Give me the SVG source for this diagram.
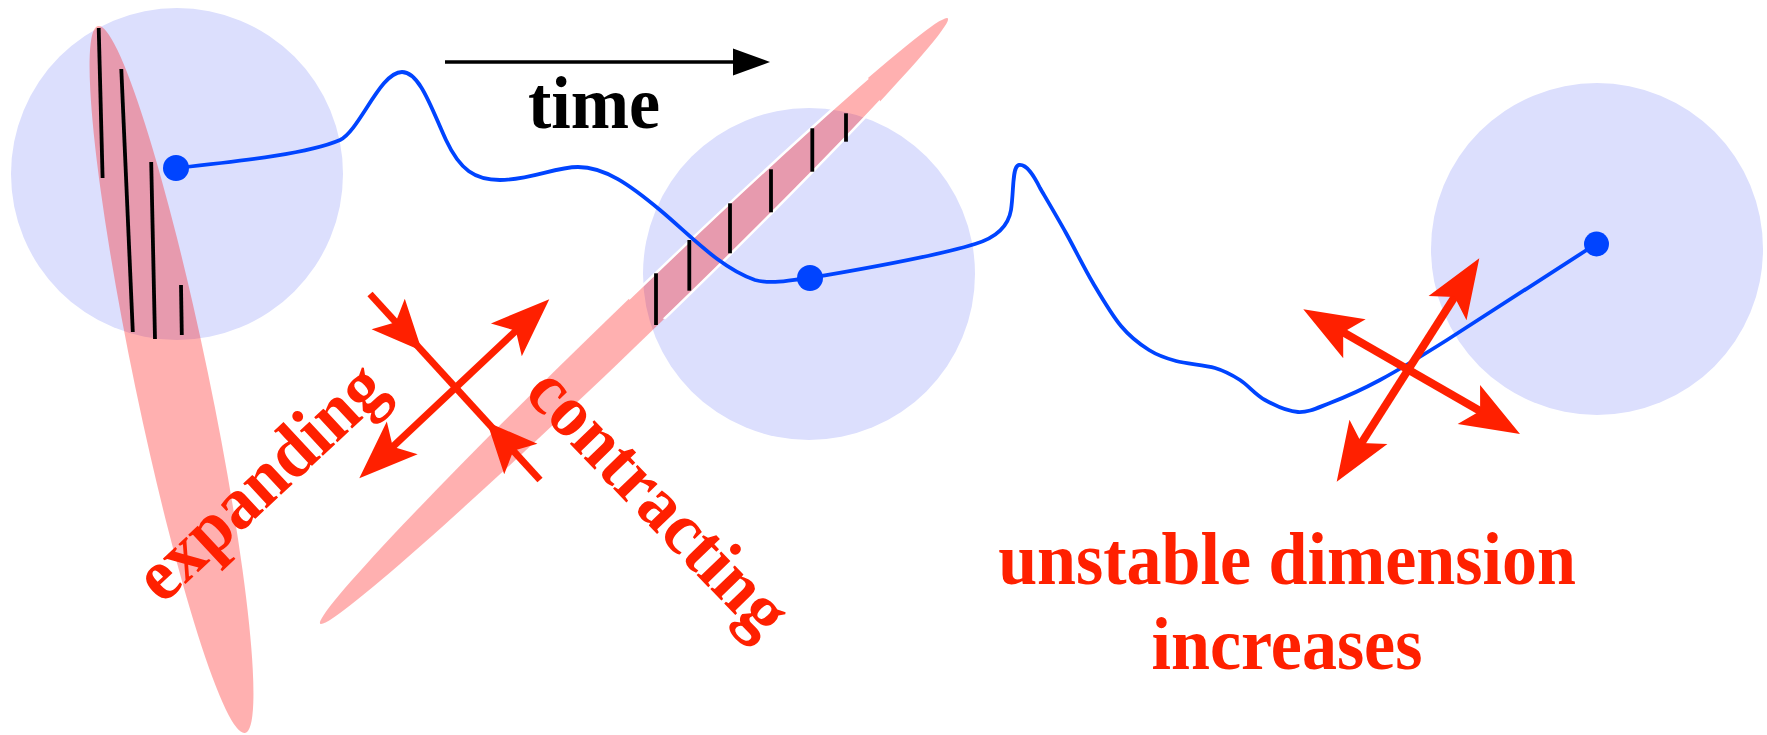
<svg xmlns="http://www.w3.org/2000/svg" width="1767" height="735" viewBox="0 0 1767 735">
<style>
.ball{fill:#dcdffd}
.lobe{fill:#ff0000;fill-opacity:0.31}
.rim{fill:none;stroke:#ffffff;stroke-width:2.5}
.hatch{stroke:#000000;stroke-width:3.8;fill:none}
.traj{fill:none;stroke:#0044ff;stroke-width:3.8}
.dot{fill:#0044ff}
.rhead{fill:#ff2000}
.rline{stroke:#ff2000;stroke-width:7;fill:none}
.rline2{stroke:#ff2000;stroke-width:8;fill:none}
.lbl{font-family:"Liberation Serif","Times New Roman",serif;font-weight:bold;font-size:70px}
.red{fill:#ff2000}
</style>
<defs>
<clipPath id="clipL"><circle cx="177" cy="174" r="166"/></clipPath>
<clipPath id="clipM"><circle cx="809" cy="274" r="166"/></clipPath>
<path id="head" d="M0,0 L-59,-22.5 L-46,0 L-59,22.5 Z"/>
</defs>
<rect width="1767" height="735" fill="#ffffff"/>

<g id="ball-left">
<circle class="ball" cx="177" cy="174" r="166"/>
</g>
<g id="ball-middle">
<circle class="ball" cx="809" cy="274" r="166"/>
</g>
<g id="ball-right">
<circle class="ball" cx="1597" cy="249" r="166"/>
</g>

<g id="lobe-expanding">
<ellipse class="lobe" cx="171.5" cy="379.5" rx="361" ry="37" transform="rotate(78.25 171.5 379.5)"/>
<ellipse class="rim" clip-path="url(#clipL)" cx="171.5" cy="379.5" rx="361" ry="37" transform="rotate(78.25 171.5 379.5)"/>
<g class="hatch">
<line x1="98.7" y1="28" x2="102.6" y2="178"/>
<line x1="121.3" y1="69" x2="132.8" y2="332"/>
<line x1="151.2" y1="162" x2="155" y2="339"/>
<line x1="181" y1="285" x2="181.8" y2="335"/>
</g>
</g>

<g id="lobe-contracting">
<ellipse class="lobe" cx="634" cy="321" rx="436" ry="19.5" transform="rotate(-43.97 634 321)"/>
<ellipse class="rim" clip-path="url(#clipM)" cx="634" cy="321" rx="436" ry="19.5" transform="rotate(-43.97 634 321)"/>
<g class="hatch">
<line x1="656" y1="273.3" x2="656" y2="325"/>
<line x1="689.3" y1="240" x2="689.3" y2="290.7"/>
<line x1="730" y1="203.3" x2="730" y2="253.3"/>
<line x1="771" y1="169.3" x2="771" y2="212.3"/>
<line x1="812.3" y1="128.3" x2="812.3" y2="171.7"/>
<line x1="846" y1="113.3" x2="846" y2="141.7"/>
</g>
</g>

<g id="connectors">
<path class="traj" d="M176,168 C250,160 310,153 340,140 C360,130 380,72 402,72 C420,72 432,110 446,140 C460,170 475,180 500,180 C530,180 555,167 578,167 C605,167 630,185 660,210 C690,235 720,268 755,280 C775,285 793,279 810,278"/>
<path class="traj" d="M810,278 C850,271 930,258 975,244 C995,238 1008,228 1011,210 C1014,190 1012,166 1019,165 C1027,164 1034,176 1040,188 C1046.3,198.8 1057.2,217.2 1066,233 C1074.8,248.8 1083.8,267.5 1093,283 C1102.2,298.5 1111.7,314.8 1121,326 C1130.3,337.2 1139.8,344.2 1149,350 C1158.2,355.8 1165,358 1176,361 C1187,364 1204.3,364.8 1215,368 C1225.7,371.2 1231.7,374.7 1240,380 C1248.3,385.3 1255.3,394.7 1265,400 C1274.7,405.3 1287.2,411.5 1298,412 C1308.8,412.5 1316.3,408.3 1330,403 C1343.7,397.7 1360.5,390.5 1380,380 C1399.5,369.5 1411,362.7 1447,340 L1596,244"/>

<g id="time-arrow">
<line x1="445" y1="62" x2="736" y2="62" stroke="#000000" stroke-width="3.5"/>
<polygon points="733,48.5 770,62 733,75.5" fill="#000000"/>
</g>

<g id="cross-left">
<line class="rline" x1="392.1" y1="447.4" x2="516.5" y2="330.2"/>
<use href="#head" class="rhead" transform="translate(549.3,299.3) rotate(-43.3)"/>
<use href="#head" class="rhead" transform="translate(359.3,478.3) rotate(136.7)"/>
<line class="rline" x1="370" y1="294" x2="540" y2="480"/>
<use href="#head" class="rhead" transform="translate(422,351) rotate(47.6) scale(0.85,1)"/>
<use href="#head" class="rhead" transform="translate(487,422) rotate(227.6) scale(0.85,1)"/>
</g>

<g id="cross-right">
<line class="rline2" x1="1360.9" y1="443.8" x2="1455.1" y2="296.2"/>
<use href="#head" class="rhead" transform="translate(1479.3,258.3) rotate(-57.45)"/>
<use href="#head" class="rhead" transform="translate(1336.7,481.7) rotate(122.55)"/>
<line class="rline2" x1="1342.3" y1="331.8" x2="1481" y2="411.5"/>
<use href="#head" class="rhead" transform="translate(1520,434) rotate(29.9)"/>
<use href="#head" class="rhead" transform="translate(1303.3,309.3) rotate(209.9)"/>
</g>
</g>

<g id="points">
<circle class="dot" cx="176" cy="168" r="13"/>
<circle class="dot" cx="810" cy="278" r="13"/>
<circle class="dot" cx="1596.5" cy="244" r="12.5"/>
</g>

<g id="labels">
<text class="lbl" fill="#000000" text-anchor="middle" transform="translate(594,127.5) scale(1,1.06)">time</text>
<text class="lbl red" text-anchor="middle" transform="translate(276.3,499.2) rotate(-43) scale(1,1.06)">expanding</text>
<text class="lbl red" text-anchor="middle" transform="translate(641.5,518) rotate(46) scale(1,1.06)">contracting</text>
<text class="lbl red" text-anchor="middle" transform="translate(1287,584) scale(1,1.06)">unstable dimension</text>
<text class="lbl red" text-anchor="middle" transform="translate(1287,669) scale(1,1.06)">increases</text>
</g>
</svg>
